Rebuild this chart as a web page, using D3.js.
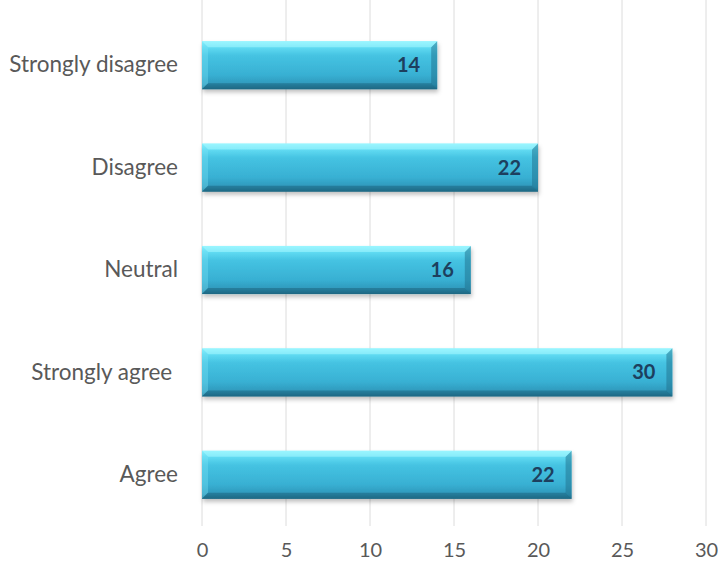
<!DOCTYPE html>
<html><head><meta charset="utf-8">
<script src="https://cdn.jsdelivr.net/npm/d3@7"></script>
<style>html,body{margin:0;padding:0;background:#fff;}svg{display:block;}</style>
</head><body>
<svg id="chart" width="718" height="567"></svg>
<script>
const categories = ["Strongly disagree", "Disagree", "Neutral", "Strongly agree ", "Agree"];
const values = [14, 20, 16, 28, 22];
const valueLabels = ["14", "22", "16", "30", "22"];
const xTicks = [0, 5, 10, 15, 20, 25, 30];

const svg = d3.select("#chart");
const font = "Lato, 'Open Sans', sans-serif";
const x = d3.scaleLinear().domain([0, 30]).range([202, 706]);
const y = d3.scaleBand().domain(categories).range([14, 526]).paddingInner(0.53).paddingOuter(0.265);

const defs = svg.append("defs");
const g = defs.append("linearGradient").attr("id", "barGrad").attr("x1", 0).attr("y1", 0).attr("x2", 0).attr("y2", 1);
[[0, "#8af3ff"], [0.12, "#62dcf3"], [0.3, "#45c3e2"], [0.7, "#38b0d3"], [0.9, "#2f98bb"], [1, "#216f8c"]]
  .forEach(([o, c]) => g.append("stop").attr("offset", o).attr("stop-color", c));
const f = defs.append("filter").attr("id", "shadow").attr("x", "-5%").attr("y", "-20%").attr("width", "110%").attr("height", "160%");
f.append("feDropShadow").attr("dx", 1).attr("dy", 3).attr("stdDeviation", 2).attr("flood-color", "#000").attr("flood-opacity", 0.25);

// gridlines
svg.append("g").selectAll("line").data(xTicks).join("line")
  .attr("x1", d => x(d)).attr("x2", d => x(d))
  .attr("y1", 0).attr("y2", 526)
  .attr("stroke", "#dcdcdc").attr("stroke-width", 1);

// x axis labels
const xAxis = d3.axisBottom(x).tickValues(xTicks).tickSize(0).tickPadding(0);
const xg = svg.append("g").attr("transform", "translate(0,543)").call(xAxis);
xg.select(".domain").remove();
xg.selectAll("text").attr("font-family", font).attr("font-size", 20).attr("fill", "#595959").attr("dy", "0.71em");

// y axis labels
const yAxis = d3.axisLeft(y).tickSize(0).tickPadding(0);
const yg = svg.append("g").attr("transform", "translate(178,0)").call(yAxis);
yg.select(".domain").remove();
yg.selectAll("text").attr("font-family", font).attr("font-size", 22.5).attr("fill", "#595959").attr("xml:space", "preserve").style("white-space", "pre");

// bars
const bars = svg.append("g").selectAll("g").data(categories).join("g");
bars.append("rect")
  .attr("x", x(0)).attr("y", d => y(d))
  .attr("width", (d, i) => x(values[i]) - x(0))
  .attr("height", y.bandwidth())
  .attr("fill", "url(#barGrad)")
  .attr("filter", "url(#shadow)");
// bevels
const bv = 6;
bars.append("polygon").attr("points", (d, i) => {
  const x0 = x(0), x1 = x(values[i]), y0 = y(d), y1 = y0 + y.bandwidth();
  return `${x1},${y0} ${x1},${y1} ${x1 - bv},${y1 - bv} ${x1 - bv},${y0 + bv}`;
}).attr("fill", "#1f6f8c").attr("opacity", 0.5);
bars.append("polygon").attr("points", (d, i) => {
  const x0 = x(0), x1 = x(values[i]), y0 = y(d), y1 = y0 + y.bandwidth();
  return `${x0},${y0} ${x1},${y0} ${x1 - bv},${y0 + bv} ${x0 + bv},${y0 + bv}`;
}).attr("fill", "#a8f8ff").attr("opacity", 0.55);
bars.append("polygon").attr("points", (d, i) => {
  const x0 = x(0), x1 = x(values[i]), y0 = y(d), y1 = y0 + y.bandwidth();
  return `${x0},${y0} ${x0 + bv},${y0 + bv} ${x0 + bv},${y1 - bv} ${x0},${y1}`;
}).attr("fill", "#7fe6f7").attr("opacity", 0.35);
bars.append("polygon").attr("points", (d, i) => {
  const x0 = x(0), x1 = x(values[i]), y0 = y(d), y1 = y0 + y.bandwidth();
  return `${x0},${y1} ${x0 + bv},${y1 - bv} ${x1 - bv},${y1 - bv} ${x1},${y1}`;
}).attr("fill", "#1a5f7a").attr("opacity", 0.5);

// value labels
bars.append("text")
  .attr("x", (d, i) => x(values[i]) - 17)
  .attr("y", d => y(d) + y.bandwidth() / 2)
  .attr("dy", "0.35em")
  .attr("text-anchor", "end")
  .attr("font-family", font).attr("font-size", 20).attr("font-weight", "bold")
  .attr("fill", "#1d3f5e")
  .text((d, i) => valueLabels[i]);
</script>
</body></html>
